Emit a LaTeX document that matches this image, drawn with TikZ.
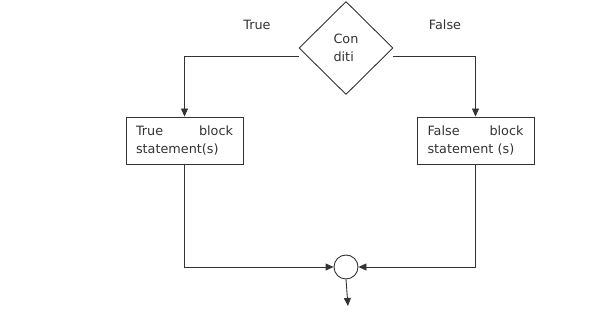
\documentclass[tikz,border=0pt]{standalone}
\usepackage{fontspec}
\setmainfont{DejaVu Sans}
\usetikzlibrary{shapes.geometric,arrows.meta}
\definecolor{ink}{HTML}{333333}
\begin{document}
\begin{tikzpicture}[x=1pt,y=1pt,
  every node/.style={font=\fontsize{12.8}{18}\selectfont, text=ink},
  link/.style={draw=ink, line width=0.9pt, -{Triangle[length=8pt,width=7pt]}},
  blockbox/.style={draw=ink, line width=0.9pt, rectangle, minimum height=47pt, align=left, inner ysep=4pt},
  cond/.style={draw=ink, line width=0.9pt, diamond, minimum width=94pt, minimum height=93pt, inner sep=0pt, align=left},
  merge/.style={draw=ink, line width=0.9pt, circle, minimum size=24pt, inner sep=0pt}]
\useasboundingbox (0,0) rectangle (600,326);
\node[cond] (c) at (346,278) {Con\\diti};
\node (tl) at (257,301) {True};
\node (fl) at (445,301) {False};
\node[blockbox, text width=97pt, inner xsep=10pt] (tb) at (184.5,185.5) {\hbox to 97pt{True\hfill block}\\statement(s)};
\node[blockbox, text width=96pt, inner xsep=10.5pt] (fb) at (475.5,185.5) {\hbox to 96pt{False\hfill block}\\statement (s)};
\node[merge] (m) at (346,59) {};
\coordinate (out) at (348,20);
\draw[link] ([yshift=-8pt]c.west) -| (tb.north);
\draw[link] ([yshift=-8pt]c.east) -| (fb.north);
\draw[link] (tb.south) |- (m.west);
\draw[link] (fb.south) |- (m.east);
\draw[link] (m.south) -- (out);
\end{tikzpicture}
\end{document}
